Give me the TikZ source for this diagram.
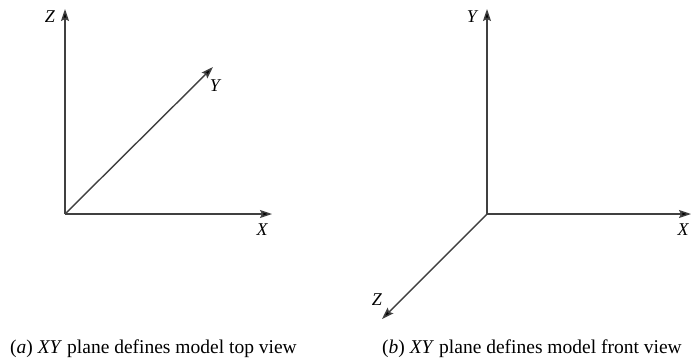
\documentclass[tikz,border=0pt]{standalone}
\usepackage{fontspec}
\setmainfont{Liberation Serif}
\usetikzlibrary{arrows.meta}
\begin{document}
\begin{tikzpicture}[x=1pt,y=-1pt,
  axis/.style={line width=1.4pt,draw=black!75,-{Stealth[length=12pt,width=8pt,inset=2pt,fill=black]}},
  lbl/.style={font=\fontsize{18}{20}\selectfont\itshape,inner sep=0pt},
  captext/.style={font=\fontsize{19.5}{22}\selectfont,anchor=base west,inner sep=0pt}]
\useasboundingbox (0,0) rectangle (691,360);
% left
\coordinate (oa) at (65,214);
\coordinate (za) at (65,9);
\coordinate (ya) at (213,67);
\coordinate (xa) at (272,214);
\draw[axis] (oa) -- (za);
\draw[axis] (oa) -- (ya);
\draw[axis] (oa) -- (xa);
\node[lbl] (lza) at (50,17) {Z};
\node[lbl] (lya) at (215,86) {Y};
\node[lbl] (lxa) at (262,230) {X};
% right
\coordinate (ob) at (487,214);
\coordinate (yb) at (487,9);
\coordinate (xb) at (691,214);
\coordinate (zb) at (382,319);
\draw[axis] (ob) -- (yb);
\draw[axis] (ob) -- (xb);
\draw[axis] (ob) -- (zb);
\node[lbl] (lyb) at (472,17) {Y};
\node[lbl] (lxb) at (683,230) {X};
\node[lbl] (lzb) at (377,300) {Z};
% captions
\node[captext] (ca) at (10,353) {(\textit{a}) \textit{XY} plane defines model top view};
\node[captext] (cb) at (382,353) {(\textit{b}) \textit{XY} plane defines model front view};
\end{tikzpicture}
\end{document}
